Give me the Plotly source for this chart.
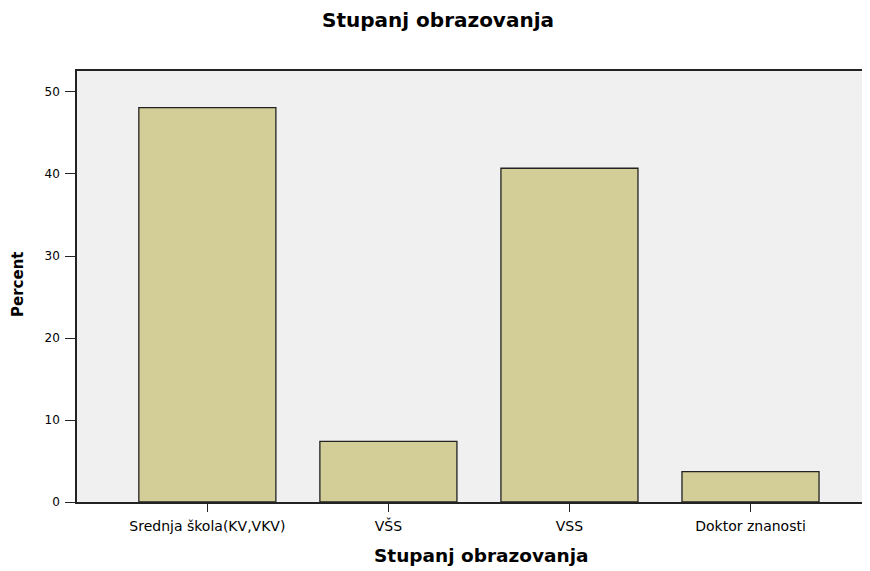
import plotly.graph_objects as go

categories = ["Srednja škola(KV,VKV)", "VŠS", "VSS", "Doktor znanosti"]
percent = [48.1, 7.4, 40.7, 3.7]
y_ticks = [0, 10, 20, 30, 40, 50]

# page body has an 8px margin, so the figure is drawn offset by (8, 8)
OFF = 8
W, H = 870 - OFF, 571 - OFF
L, T = 77 - OFF, 71 - OFF
AXB = 502 - OFF
B = H - AXB
PW, PH = W - L, AXB - T


def px(xr):
    return (xr - OFF - L) / PW


def py(yr):
    return (AXB - (yr - OFF)) / PH


fig = go.Figure()
fig.add_trace(go.Bar(
    x=list(range(len(categories))),
    y=percent,
    marker=dict(color="#D3CE97", line=dict(color="#222222", width=1.3)),
    width=0.757,
    hoverinfo="skip",
))

fig.update_layout(
    width=W, height=H,
    margin=dict(l=L, r=0, t=T, b=B, autoexpand=False),
    paper_bgcolor="white",
    plot_bgcolor="#F0F0F0",
    showlegend=False,
    font=dict(family="DejaVu Sans, sans-serif", color="black", size=12),
    xaxis=dict(
        range=[-0.72, 3.66],
        tickmode="array",
        tickvals=list(range(len(categories))),
        ticktext=categories,
        ticks="outside", ticklen=8, tickwidth=1.3, tickcolor="#222222",
        showline=True, linecolor="#222222", linewidth=1.5, mirror=True,
        showgrid=False, zeroline=False, automargin=False,
        tickfont=dict(size=14),
        ticklabelstandoff=2,
    ),
    yaxis=dict(
        range=[0, 52.56],
        tickmode="array",
        tickvals=y_ticks,
        ticks="outside", ticklen=10, tickwidth=1.3, tickcolor="#222222",
        showline=True, linecolor="#222222", linewidth=1.5,
        showgrid=False, zeroline=False, automargin=False,
        tickfont=dict(size=12),
        ticklabelstandoff=3,
    ),
    annotations=[
        dict(text="<b>Stupanj obrazovanja</b>", xref="paper", yref="paper",
             x=px(438), y=py(20), xanchor="center", yanchor="middle",
             showarrow=False, font=dict(size=20)),
        dict(text="<b>Stupanj obrazovanja</b>", xref="paper", yref="paper",
             x=px(481), y=py(555), xanchor="center", yanchor="middle",
             showarrow=False, font=dict(size=18.5)),
        dict(text="<b>Percent</b>", xref="paper", yref="paper", textangle=-90,
             x=px(18), y=py(285), xanchor="center", yanchor="middle",
             showarrow=False, font=dict(size=15)),
    ],
)

fig.write_html("out.html")
